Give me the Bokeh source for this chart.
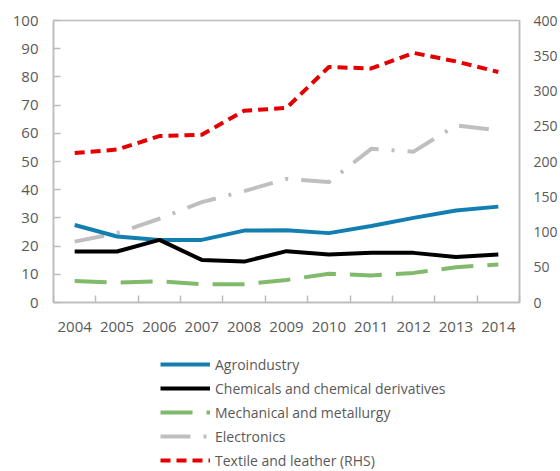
from bokeh.plotting import figure
from bokeh.layouts import column
from bokeh.models import Range1d, LinearAxis, FixedTicker, Legend, LegendItem
from bokeh.embed import file_html
from bokeh.resources import INLINE

# Export shares by sector, 2004-2014
years = ["2004", "2005", "2006", "2007", "2008", "2009",
         "2010", "2011", "2012", "2013", "2014"]
agroindustry = [27.5, 23.4, 22.2, 22.2, 25.5, 25.6, 24.6, 27.1, 30.0, 32.6, 34.0]
chemicals = [18.1, 18.1, 22.2, 15.1, 14.5, 18.2, 17.0, 17.6, 17.6, 16.1, 17.0]
mechanical = [7.6, 7.1, 7.5, 6.5, 6.5, 8.0, 10.2, 9.6, 10.5, 12.5, 13.5]
electronics = [21.6, 24.6, 29.7, 35.6, 39.5, 43.8, 42.7, 54.5, 53.5, 62.8, 61.0]
textile_rhs = [212, 217, 236, 238, 272, 276, 334, 332, 354, 342, 327]

series_labels = ["Agroindustry", "Chemicals and chemical derivatives",
                 "Mechanical and metallurgy", "Electronics",
                 "Textile and leather (RHS)"]

left_ticks = list(range(0, 101, 10))
right_ticks = list(range(0, 401, 50))

FONT = "Open Sans"
TEXT = "#595959"
FRAME = "#bcbcbc"
FS = "15px"
W = 4

styles = {
    "Agroindustry": dict(line_color="#137fb0", line_width=W),
    "Chemicals and chemical derivatives": dict(line_color="black", line_width=W),
    "Mechanical and metallurgy": dict(line_color="#80bb6c", line_width=W,
                                      line_dash="32 14"),
    "Electronics": dict(line_color="#bfbfbf", line_width=W,
                        line_dash="30 13 3 13"),
    "Textile and leather (RHS)": dict(line_color="#e40000", line_width=W,
                                      line_dash="10 6"),
}

xs = list(range(len(years)))
boundaries = [i - 0.5 for i in range(len(years) + 1)]

p = figure(frame_width=466, frame_height=282, output_backend="svg",
           toolbar_location=None,
           x_range=Range1d(-0.5, len(years) - 0.5),
           y_range=Range1d(left_ticks[0], left_ticks[-1]),
           min_border_left=53, min_border_right=41,
           min_border_top=20, min_border_bottom=43,
           x_axis_location=None, y_axis_location=None)
p.grid.visible = False
p.outline_line_color = FRAME
p.outline_line_width = 1.5
p.extra_y_ranges = {"rhs": Range1d(right_ticks[0], right_ticks[-1])}

# bottom axis: year labels centred, tick marks between categories
xaxis = LinearAxis(ticker=FixedTicker(ticks=xs, minor_ticks=boundaries),
                   major_label_overrides={i: y for i, y in zip(xs, years)})
xaxis.major_tick_line_color = None
xaxis.minor_tick_in = 7
xaxis.minor_tick_out = 0
xaxis.minor_tick_line_color = FRAME
xaxis.minor_tick_line_width = 1.5
xaxis.axis_line_color = FRAME
xaxis.axis_line_width = 1.5
xaxis.major_label_standoff = 13
xaxis.major_label_text_font = FONT
xaxis.major_label_text_font_size = FS
xaxis.major_label_text_color = TEXT
p.add_layout(xaxis, "below")

yaxis = LinearAxis(ticker=FixedTicker(ticks=left_ticks))
yaxis.major_tick_in = 7
yaxis.major_tick_out = 0
yaxis.major_tick_line_color = FRAME
yaxis.major_tick_line_width = 1.5
yaxis.minor_tick_line_color = None
yaxis.axis_line_color = FRAME
yaxis.axis_line_width = 1.5
yaxis.major_label_standoff = 15
yaxis.major_label_text_font = FONT
yaxis.major_label_text_font_size = FS
yaxis.major_label_text_color = TEXT
p.add_layout(yaxis, "left")

raxis = LinearAxis(y_range_name="rhs", ticker=FixedTicker(ticks=right_ticks))
raxis.major_tick_line_color = None
raxis.minor_tick_line_color = None
raxis.axis_line_color = FRAME
raxis.axis_line_width = 1.5
raxis.major_label_standoff = 8
raxis.major_label_text_font = FONT
raxis.major_label_text_font_size = "14px"
raxis.major_label_text_color = TEXT
p.add_layout(raxis, "right")

lab = series_labels
p.line(xs, electronics, line_join="round", **styles[lab[3]])
p.line(xs, mechanical, line_join="round", **styles[lab[2]])
p.line(xs, agroindustry, line_join="round", **styles[lab[0]])
p.line(xs, chemicals, line_join="round", **styles[lab[1]])
p.line(xs, textile_rhs, line_join="round", y_range_name="rhs", **styles[lab[4]])

# key panel underneath the chart
key = figure(width=560, height=126, output_backend="svg", toolbar_location=None,
             x_range=Range1d(0, 1), y_range=Range1d(0, 1),
             min_border=0, x_axis_location=None, y_axis_location=None)
key.grid.visible = False
key.outline_line_color = None
nan = float("nan")
items = []
for name in series_labels:
    r = key.line([nan, nan], [nan, nan], **styles[name])
    items.append(LegendItem(label=name, renderers=[r]))

legend = Legend(items=items, location=(107, 0))
legend.glyph_width = 50
legend.glyph_height = 22
legend.label_height = 22
legend.spacing = 2
legend.padding = 0
legend.margin = 0
legend.label_standoff = 5
legend.border_line_color = None
legend.background_fill_alpha = 0
legend.label_text_font = FONT
legend.label_text_font_size = "14px"
legend.label_text_color = TEXT
key.add_layout(legend, "center")

layout = column(p, key, spacing=0)
open("out.html", "w").write(file_html(layout, INLINE))
